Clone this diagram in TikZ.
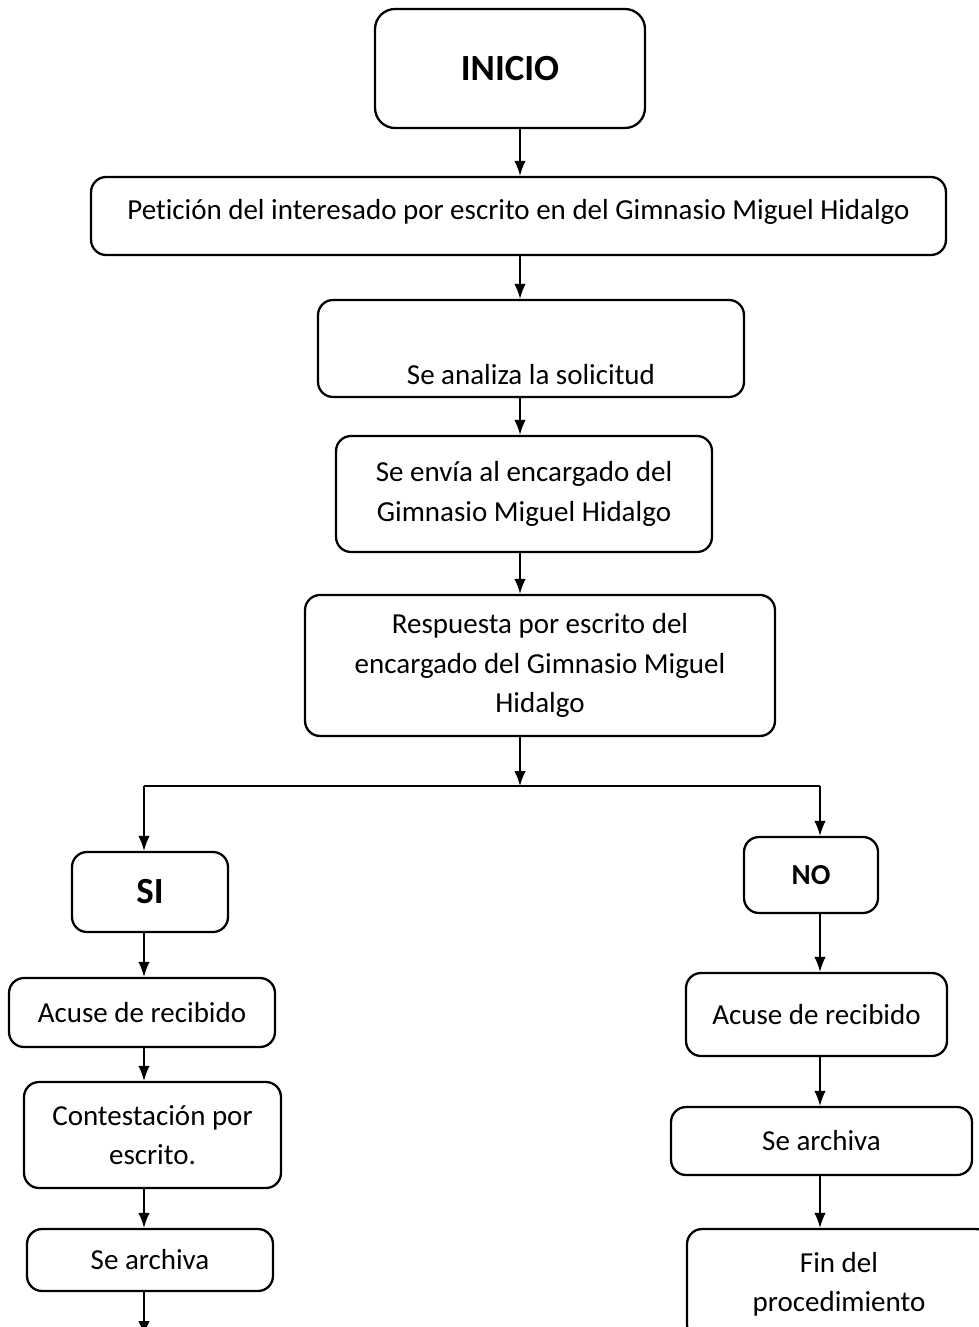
\documentclass[tikz,border=0pt]{standalone}
\usepackage{fontspec}
\setmainfont[Ligatures=NoCommon]{Carlito}
\usetikzlibrary{arrows.meta}
\begin{document}
\begin{tikzpicture}[x=0.02cm,y=-0.02cm,
    caja/.style={draw,line width=1.3pt,rounded corners=0.3cm,align=center,inner sep=0pt,font=\fontsize{16.5}{22.3}\selectfont},
    grande/.style={caja,font=\fontsize{21}{25}\selectfont\bfseries},
    flecha/.style={line width=0.9pt,-{Latex[length=8.5pt,width=6.5pt]}}]
    \useasboundingbox (0,0) rectangle (979,1327);
    \clip (0,0) rectangle (979,1327);
    \coordinate (eje) at (520,0);
    \coordinate (ejeL) at (144,0);
    \coordinate (ejeR) at (820,0);
    \node[grande,minimum width=5.4cm,minimum height=2.38cm,rounded corners=0.4cm] (inicio) at (510,68.5) {INICIO};
    \node[caja,minimum width=17.1cm,minimum height=1.56cm] (peticion) at (518.5,216) {Petición del interesado por escrito en del Gimnasio Miguel Hidalgo\\[-0.53cm]\mbox{}};
    \node[caja,minimum width=8.52cm,minimum height=1.94cm] (analiza) at (531,348.5) {\strut\\[0.1cm]Se analiza la solicitud};
    \node[caja,minimum width=7.52cm,minimum height=2.32cm] (envia) at (524,494) {Se envía al encargado del\\Gimnasio Miguel Hidalgo};
    \node[caja,minimum width=9.4cm,minimum height=2.82cm] (respuesta) at (540,665.5) {Respuesta por escrito del\\encargado del Gimnasio Miguel\\Hidalgo};
    \node[grande,minimum width=3.12cm,minimum height=1.6cm] (si) at (150,892) {SI};
    \node[caja,font=\fontsize{16.5}{20}\selectfont\bfseries,minimum width=2.68cm,minimum height=1.52cm] (no) at (811,875) {NO};
    \node[caja,minimum width=5.32cm,minimum height=1.38cm] (acuseL) at (142,1012.5) {Acuse de recibido};
    \node[caja,minimum width=5.14cm,minimum height=2.12cm] (contesta) at (152.5,1135) {Contestación por\\escrito.};
    \node[caja,minimum width=4.92cm,minimum height=1.24cm] (archivaL) at (150,1260) {Se archiva};
    \node[caja,minimum width=5.22cm,minimum height=1.66cm] (acuseR) at (816.5,1014.5) {Acuse de recibido};
    \node[caja,minimum width=6.02cm,minimum height=1.36cm] (archivaR) at (821.5,1141) {Se archiva};
    \node[caja,minimum width=6.08cm,minimum height=2.22cm] (fin) at (839,1284.5) {Fin del\\procedimiento};
    \coordinate (rama) at (520,786);
    \coordinate (ramaL) at (144,786);
    \coordinate (ramaR) at (820,786);
    \coordinate (finL) at (144,1336);
    \draw[flecha] (inicio.south -| eje)-- (peticion.north -| eje);
    \draw[flecha] (peticion.south -| eje)-- (analiza.north -| eje);
    \draw[flecha] (analiza.south -| eje)-- (envia.north -| eje);
    \draw[flecha] (envia.south -| eje)-- (respuesta.north -| eje);
    \draw[flecha] (respuesta.south -| eje)-- (rama);
    \draw[line width=0.9pt] (ramaL)-- (ramaR);
    \draw[flecha] (ramaL)-- (si.north -| ejeL);
    \draw[flecha] (ramaR)-- (no.north -| ejeR);
    \draw[flecha] (si.south -| ejeL)-- (acuseL.north -| ejeL);
    \draw[flecha] (acuseL.south -| ejeL)-- (contesta.north -| ejeL);
    \draw[flecha] (contesta.south -| ejeL)-- (archivaL.north -| ejeL);
    \draw[flecha] (archivaL.south -| ejeL)-- (finL);
    \draw[flecha] (no.south -| ejeR)-- (acuseR.north -| ejeR);
    \draw[flecha] (acuseR.south -| ejeR)-- (archivaR.north -| ejeR);
    \draw[flecha] (archivaR.south -| ejeR)-- (fin.north -| ejeR);
\end{tikzpicture}
\end{document}
